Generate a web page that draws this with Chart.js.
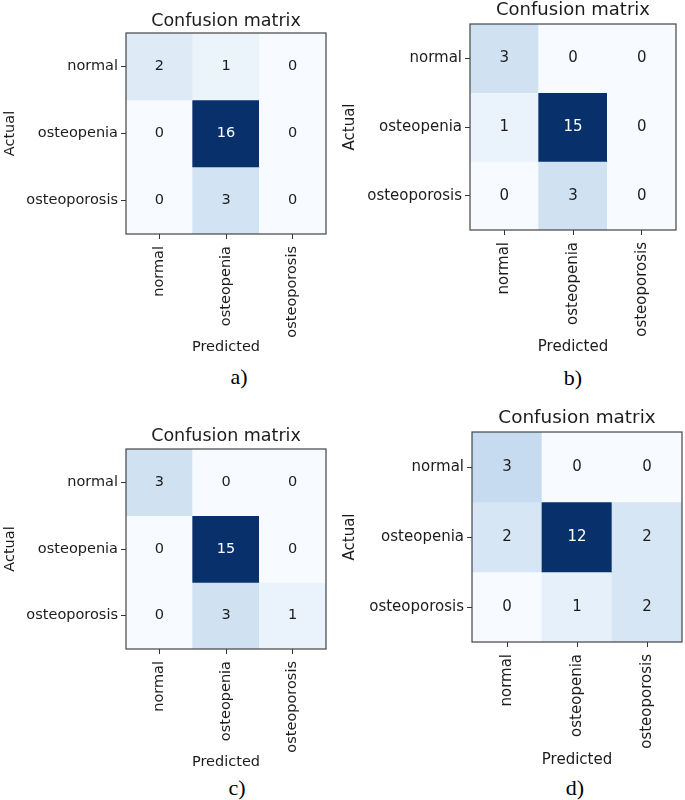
<!DOCTYPE html>
<html>
<head>
<meta charset="utf-8">
<script src="https://cdn.jsdelivr.net/npm/chart.js@4/dist/chart.umd.min.js"></script>
<style>
  body { margin: 0; background: #fff; }
  #page { position: relative; width: 685px; height: 800px; overflow: hidden; }
  #page canvas { position: absolute; }
  .cap { position: absolute; font-family: "Liberation Serif", serif; font-size: 22px; color: #000;
         transform: translate(-50%, -50%); white-space: nowrap; }
</style>
</head>
<body>
<div id="page">
  <canvas id="cmA"></canvas>
  <canvas id="cmB"></canvas>
  <canvas id="cmC"></canvas>
  <canvas id="cmD"></canvas>
</div>
<script>
// data
const classLabels = ['normal', 'osteopenia', 'osteoporosis'];
const matrixA = [[2, 1, 0], [0, 16, 0], [0, 3, 0]];
const matrixB = [[3, 0, 0], [1, 15, 0], [0, 3, 0]];
const matrixC = [[3, 0, 0], [0, 15, 0], [0, 3, 1]];
const matrixD = [[3, 0, 0], [2, 12, 2], [0, 1, 2]];
const captions = ['a)', 'b)', 'c)', 'd)'];
const chartTitle = 'Confusion matrix';
const xTitle = 'Predicted';
const yTitle = 'Actual';
const rowTicks = [0.5, 1.5, 2.5];

// matplotlib "Blues"
const bluesStops = [
  [247, 251, 255], [222, 235, 247], [198, 219, 239], [158, 202, 225], [107, 174, 214],
  [66, 146, 198], [33, 113, 181], [8, 81, 156], [8, 48, 107]
];
function blues(t) {
  t = Math.max(0, Math.min(1, t));
  const p = t * (bluesStops.length - 1);
  const i = Math.min(Math.floor(p), bluesStops.length - 2);
  const f = p - i;
  const a = bluesStops[i], b = bluesStops[i + 1];
  const c = a.map((v, k) => Math.round(v + (b[k] - v) * f));
  return `rgb(${c[0]},${c[1]},${c[2]})`;
}

const FONT = 'DejaVu Sans';
const INK = '#1c1c1c';

const cellText = {
  id: 'cellText',
  afterDatasetsDraw(chart) {
    const { ctx } = chart;
    const m = chart.options.plugins.cellText.matrix;
    const fs = chart.options.plugins.cellText.size;
    const max = Math.max(...m.flat());
    ctx.save();
    ctx.font = `${fs}px "${FONT}"`;
    ctx.textAlign = 'center';
    ctx.textBaseline = 'middle';
    chart.data.datasets.forEach((ds, i) => {
      chart.getDatasetMeta(i).data.forEach((el, j) => {
        const v = m[i][j];
        ctx.fillStyle = v > max / 2 ? '#ffffff' : INK;
        ctx.fillText(String(v), el.x, (el.y + el.base) / 2);
      });
    });
    ctx.restore();
  }
};

// axes frame + title centred over the axes box (matplotlib style)
const frame = {
  id: 'frame',
  afterDraw(chart) {
    const { ctx, chartArea: a } = chart;
    const o = chart.options.plugins.frame;
    ctx.save();
    ctx.strokeStyle = '#444';
    ctx.lineWidth = 1.2;
    ctx.strokeRect(a.left, a.top, a.right - a.left, a.bottom - a.top);
    ctx.fillStyle = INK;
    ctx.font = `${o.titleFs}px "${FONT}"`;
    ctx.textAlign = 'center';
    ctx.textBaseline = 'middle';
    ctx.fillText(chartTitle, (a.left + a.right) / 2, o.titleY);
    ctx.restore();
  }
};

function makePanel(id, matrix, L) {
  const canvas = document.getElementById(id);
  const H = Math.ceil(L.predY + L.tickFs / 2 + 2);
  canvas.style.left = L.left + 'px';
  canvas.style.top = L.top + 'px';
  canvas.style.width = L.w + 'px';
  canvas.style.height = H + 'px';
  canvas.width = L.w;
  canvas.height = H;

  const max = Math.max(...matrix.flat());
  const datasets = matrix.map((row, i) => ({
    data: row.map(() => [i, i + 1]),
    backgroundColor: row.map(v => blues(v / max)),
    borderWidth: 0,
    barPercentage: 1,
    categoryPercentage: 1,
    grouped: false
  }));

  new Chart(canvas, {
    type: 'bar',
    data: { labels: classLabels, datasets },
    plugins: [cellText, frame],
    options: {
      responsive: false,
      animation: false,
      events: [],
      layout: { padding: { left: 0, right: L.w - L.boxR, top: L.boxT, bottom: 0 } },
      plugins: {
        legend: { display: false },
        tooltip: { enabled: false },
        title: { display: false },
        frame: { titleY: L.titleY, titleFs: L.titleFs },
        cellText: { matrix, size: L.tickFs }
      },
      scales: {
        x: {
          type: 'category',
          offset: true,
          grid: { offset: false, drawOnChartArea: false, drawTicks: true, tickLength: 5, color: '#333' },
          border: { display: false },
          ticks: { color: INK, font: { family: FONT, size: L.tickFs }, minRotation: 90, maxRotation: 90,
                   autoSkip: false, padding: 7 },
          title: { display: true, text: xTitle, color: INK,
                   font: { family: FONT, size: L.tickFs, lineHeight: 1 },
                   padding: { top: 0, bottom: H - L.predY - L.tickFs / 2 } },
          afterFit(s) { s.height = H - L.boxB; }
        },
        y: {
          type: 'linear',
          min: 0,
          max: 3,
          reverse: true,
          grid: { drawOnChartArea: false, drawTicks: true, tickLength: 5, color: '#333' },
          border: { display: false },
          afterBuildTicks(s) { s.ticks = rowTicks.map(v => ({ value: v })); },
          ticks: { color: INK, font: { family: FONT, size: L.tickFs }, padding: 3,
                   callback: (v, i) => classLabels[i] },
          title: { display: true, text: yTitle, color: INK,
                   font: { family: FONT, size: L.tickFs, lineHeight: 1 },
                   padding: { top: L.actualX - L.tickFs / 2, bottom: 0 } },
          afterFit(s) { s.width = L.boxL; }
        }
      }
    }
  });
}

const layouts = [
  { left: 0,   top: 0,   w: 342, boxL: 126, boxR: 326, boxT: 33, boxB: 234, titleY: 21, titleFs: 17.5, tickFs: 14.5, predY: 347, actualX: 10, capX: 239, capY: 377 },
  { left: 342, top: 0,   w: 343, boxL: 128, boxR: 334, boxT: 24, boxB: 230, titleY: 10, titleFs: 18,   tickFs: 15,   predY: 347, actualX: 8,  capX: 573, capY: 378 },
  { left: 0,   top: 400, w: 342, boxL: 126, boxR: 326, boxT: 49, boxB: 249, titleY: 36, titleFs: 17.5, tickFs: 14.5, predY: 362, actualX: 10, capX: 237, capY: 788 },
  { left: 342, top: 400, w: 343, boxL: 130, boxR: 340, boxT: 32, boxB: 242, titleY: 18, titleFs: 18.4, tickFs: 15,   predY: 360, actualX: 8,  capX: 575, capY: 788 }
];

const matrices = [matrixA, matrixB, matrixC, matrixD];
['cmA', 'cmB', 'cmC', 'cmD'].forEach((id, k) => makePanel(id, matrices[k], layouts[k]));

const page = document.getElementById('page');
captions.forEach((t, k) => {
  const d = document.createElement('div');
  d.className = 'cap';
  d.textContent = t;
  d.style.left = layouts[k].capX + 'px';
  d.style.top = layouts[k].capY + 'px';
  page.appendChild(d);
});
</script>
</body>
</html>
